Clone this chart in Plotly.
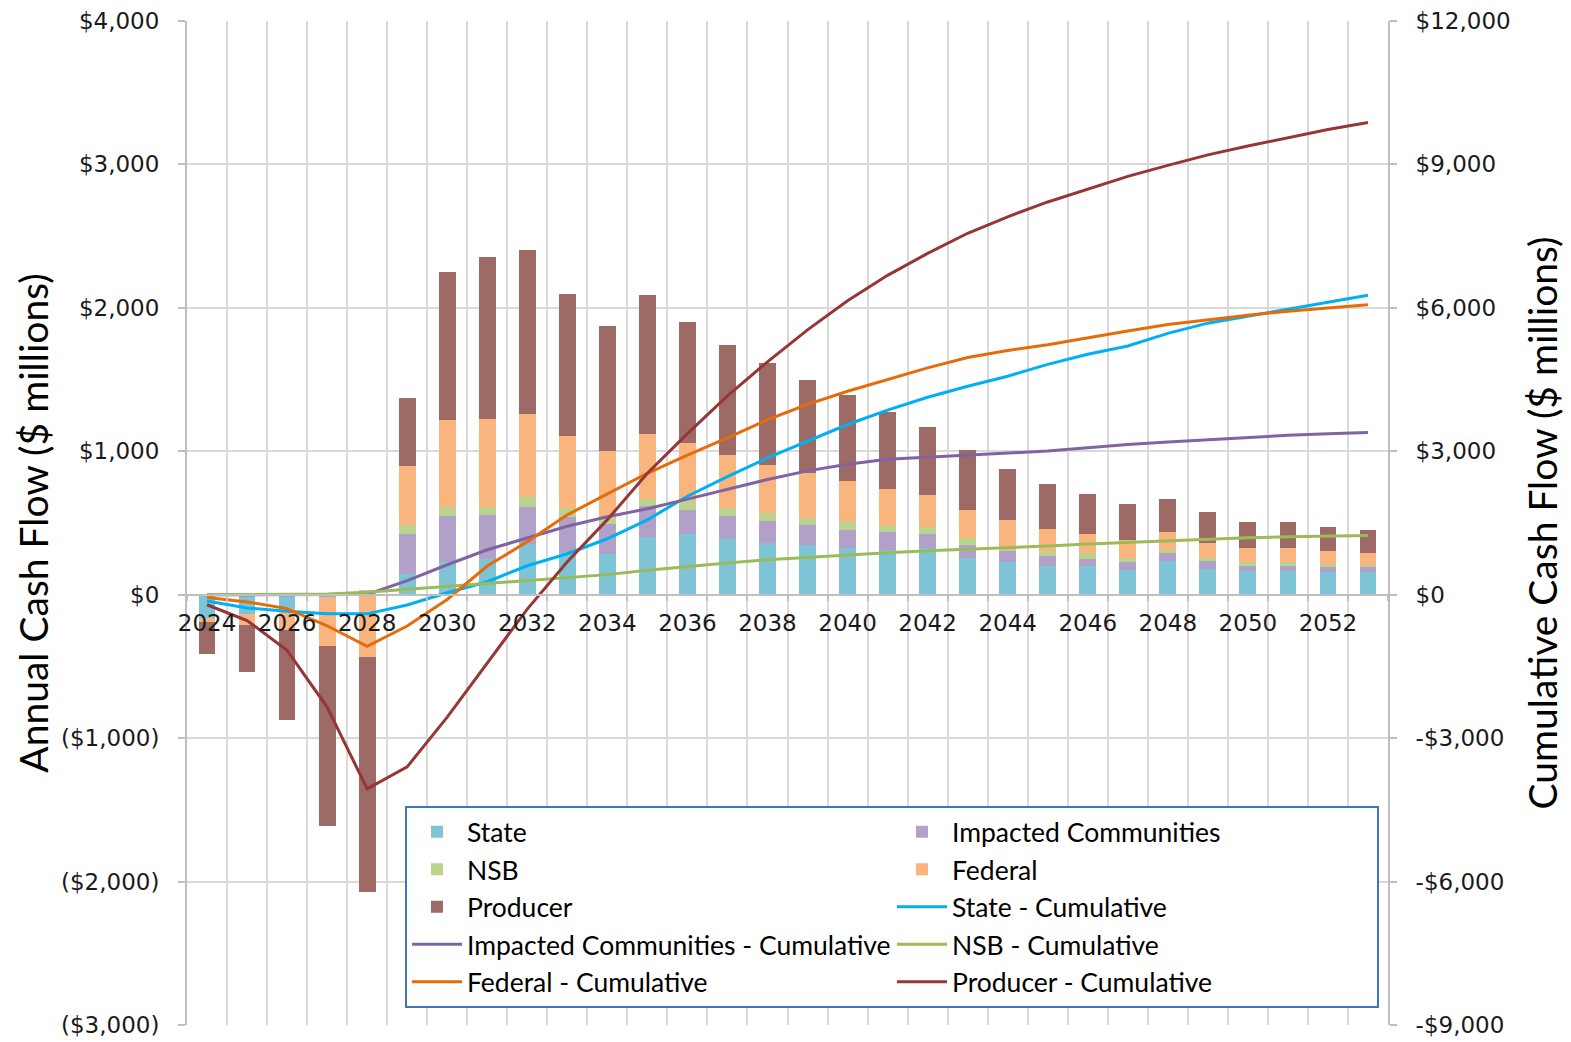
import plotly.graph_objects as go

# Fiscal years shown on the category axis
years = list(range(2024, 2054))
year_ticks = list(range(2024, 2054, 2))

# Annual cash flow by recipient ($ millions), stacked bars on the left axis
state = [-163, -132, -98, -15, -10, 146, 228, 251, 355, 300, 284, 399, 420, 385, 362,
         346, 323, 311, 328, 258, 228, 202, 197, 169, 235, 179, 162, 162, 155, 155]
impacted = [0, 0, 0, 0, 0, 279, 318, 302, 260, 241, 206, 223, 172, 161, 152,
            137, 128, 123, 97, 88, 79, 65, 54, 59, 56, 53, 40, 40, 38, 38]
nsb = [0, 0, 0, 0, 30, 58, 69, 62, 73, 63, 51, 42, 58, 62, 55,
       54, 53, 47, 49, 46, 7, 40, 42, 30, 20, 24, 26, 26, 23, 16]
federal = [-28, -81, -150, -342, -425, 411, 600, 607, 575, 506, 458, 456, 407, 368, 335,
           311, 288, 255, 223, 200, 207, 151, 132, 125, 123, 106, 95, 95, 91, 82]
producer = [-221, -325, -627, -1257, -1640, 479, 1036, 1131, 1139, 990, 878, 971, 843, 766, 711,
            652, 597, 541, 469, 414, 359, 311, 279, 249, 230, 214, 181, 181, 167, 157]

# Cumulative cash flow by recipient ($ millions), lines on the right axis
state_cum = [-130, -278, -348, -397, -400, -215, 40, 272, 606, 857, 1170, 1567, 2060, 2470, 2860,
             3210, 3560, 3860, 4130, 4360, 4570, 4817, 5028, 5202, 5466, 5680, 5831, 5970, 6116, 6265]
impacted_cum = [0, 0, 0, 0, 5, 293, 627, 940, 1191, 1432, 1630, 1797, 2000, 2210, 2410,
                2590, 2730, 2835, 2875, 2915, 2960, 3005, 3075, 3144, 3196, 3246, 3291, 3335, 3367, 3394]
nsb_cum = [0, 3, 6, 15, 50, 110, 180, 240, 300, 350, 420, 510, 590, 665, 730,
           785, 835, 880, 920, 950, 990, 1020, 1060, 1095, 1125, 1160, 1190, 1210, 1230, 1240]
federal_cum = [-60, -150, -290, -650, -1080, -655, -100, 600, 1110, 1670, 2110, 2540, 2920, 3280, 3660,
               3980, 4255, 4500, 4745, 4960, 5110, 5227, 5378, 5515, 5650, 5753, 5845, 5931, 6005, 6065]
producer_cum = [-210, -540, -1165, -2350, -4060, -3600, -2560, -1420, -300, 690, 1570, 2540, 3370, 4160, 4870,
                5540, 6150, 6680, 7140, 7560, 7905, 8215, 8490, 8750, 8980, 9200, 9385, 9560, 9730, 9875]

# Axis tick labels
left_ticks = [-3000, -2000, -1000, 0, 1000, 2000, 3000, 4000]
left_labels = ["($3,000)", "($2,000)", "($1,000)", "$0", "$1,000", "$2,000", "$3,000", "$4,000"]
right_ticks = [-9000, -6000, -3000, 0, 3000, 6000, 9000, 12000]
right_labels = ["-$9,000", "-$6,000", "-$3,000", "$0", "$3,000", "$6,000", "$9,000", "$12,000"]

bar_series = [
    ("State", state, "#7fc4d6"),
    ("Impacted Communities", impacted, "#b1a0c7"),
    ("NSB", nsb, "#bad48f"),
    ("Federal", federal, "#fab47e"),
    ("Producer", producer, "#9e6a66"),
]
line_series = [
    ("State - Cumulative", state_cum, "#00b0f0"),
    ("Impacted Communities - Cumulative", impacted_cum, "#8064a2"),
    ("NSB - Cumulative", nsb_cum, "#9bbb59"),
    ("Federal - Cumulative", federal_cum, "#e46c0a"),
    ("Producer - Cumulative", producer_cum, "#953735"),
]

fig = go.Figure()
for name, vals, color in bar_series:
    fig.add_trace(go.Bar(x=years, y=vals, name=name, marker_color=color,
                         marker_line_width=0, width=0.42, yaxis="y"))
for name, vals, color in line_series:
    fig.add_trace(go.Scatter(x=years, y=vals, name=name, mode="lines",
                             line=dict(color=color, width=3), yaxis="y2"))

tick_font = dict(family="DejaVu Sans", size=23, color="#1a1a1a")
title_font = dict(family="Lato", size=39, color="#000000")
grid = "#d9d9d9"
axis_line = "#bfbfbf"

fig.update_layout(
    width=1571, height=1042,
    margin=dict(l=187, r=183, t=21, b=17, autoexpand=False),
    paper_bgcolor="white", plot_bgcolor="white",
    barmode="relative", bargap=0,
    xaxis=dict(
        range=[2023.5, 2053.5], tickvals=year_ticks, ticktext=[str(y) for y in year_ticks],
        tickfont=tick_font, showgrid=False, ticks="", anchor="free", position=3 / 7,
        showline=True, linecolor=axis_line, linewidth=2, zeroline=False,
        ticklabelstandoff=8,
        minor=dict(tick0=2023.5, dtick=1, showgrid=True, gridcolor=grid, gridwidth=2,
                   ticks="outside", ticklen=5, tickcolor=axis_line, tickwidth=2),
    ),
    yaxis=dict(
        range=[-3000, 4000], tickvals=left_ticks, ticktext=left_labels, tickfont=tick_font,
        showgrid=True, gridcolor=grid, gridwidth=2, zeroline=False,
        showline=True, linecolor=axis_line, linewidth=2,
        ticks="outside", ticklen=7, tickcolor=axis_line, tickwidth=2, ticklabelstandoff=14,
        title=dict(text="Annual Cash Flow ($ millions)", font=title_font, standoff=0),
    ),
    yaxis2=dict(
        range=[-9000, 12000], tickvals=right_ticks, ticktext=right_labels, tickfont=tick_font,
        overlaying="y", side="right", showgrid=False, zeroline=False,
        showline=True, linecolor=axis_line, linewidth=2,
        ticks="outside", ticklen=7, tickcolor=axis_line, tickwidth=2, ticklabelstandoff=14,
        title=dict(text="Cumulative Cash Flow ($ millions)", font=title_font, standoff=20),
    ),
    legend=dict(
        orientation="h", x=0.1815, y=0.218, xanchor="left", yanchor="top",
        bgcolor="white", bordercolor="#4472c4", borderwidth=2,
        font=dict(family="Lato", size=26.5, color="#000000"),
        entrywidth=420, entrywidthmode="pixels", itemwidth=50,
        traceorder="normal",
    ),
    showlegend=True,
)

fig.write_html("out.html")
